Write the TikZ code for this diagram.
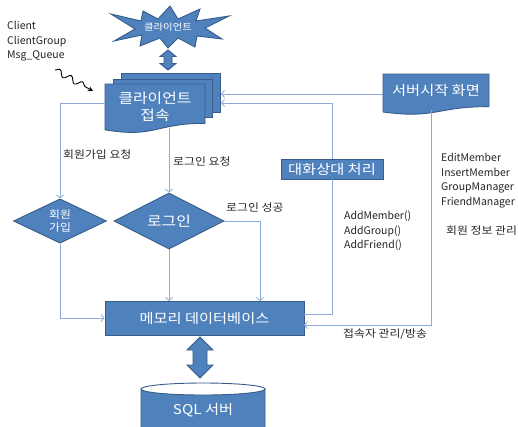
\documentclass[tikz,border=0pt]{standalone}
\usepackage{fontspec}
\setmainfont[FakeStretch=1.13]{Noto Sans CJK KR}
\newfontfamily\latinfnt{Noto Sans CJK KR}
\usetikzlibrary{shapes.geometric,arrows.meta,decorations.pathmorphing}
\definecolor{fillblue}{HTML}{4F81BD}
\definecolor{edgeblue}{HTML}{385D8A}
\definecolor{linkblue}{HTML}{8EAAD8}
\begin{document}
\begin{tikzpicture}[x=1pt,y=-1pt,
  blockfill/.style={fill=fillblue,draw=edgeblue,line width=0.9pt},
  link/.style={draw=linkblue,line width=0.8pt,-{Straight Barb[length=3pt,width=7pt]}},
  plainlink/.style={draw=linkblue,line width=0.8pt},
  lbl/.style={font=\fontsize{10.5}{14.5}\selectfont,text=black!85,inner sep=0,align=left,anchor=west},
  latin/.style={font=\latinfnt\fontsize{10.5}{14.5}\selectfont,text=black!85,inner sep=0,align=left,anchor=north west},
  boxtxt/.style={text=white,inner sep=0,align=center},
]
\useasboundingbox (0,0) rectangle (518,426);
\fill[white] (0,0) rectangle (518,426);

% ---- star (explosion)
\draw[blockfill] (111,14) -- (141,21) -- (143,11) -- (158,19) -- (170,6) -- (178,19) -- (200,9) -- (196,21) -- (229,16) -- (205,28) -- (222,39) -- (197,36) -- (195,47) -- (178,38) -- (168,48) -- (160,38) -- (140,46) -- (142,35) -- (114,41) -- (135,29) -- cycle;
\node[boxtxt,font=\fontsize{9.2}{11}\selectfont] (star) at (168,27) {클라이언트};

% ---- top double arrow
\draw[blockfill] (168,50) -- (176,56.5) -- (172,56.5) -- (172,63.5) -- (176,63.5) -- (168,70) -- (160,63.5) -- (164,63.5) -- (164,56.5) -- (160,56.5) -- cycle;

% ---- multidocument
\draw[blockfill] (121,73) rectangle (220,112);
\draw[blockfill] (113,79) rectangle (212,117);
\draw[blockfill] (105,84) -- (205,84) -- (205,123.3) .. controls (155,123.3) and (155,138.3) .. (105,129.8) -- cycle;
\node[boxtxt,font=\fontsize{14}{17}\selectfont] (cdoc) at (155,106.5) {클라이언트\\접속};
\coordinate (cdocW) at (105,103);
\coordinate (cdocS) at (169,128);
\coordinate (cdocE1) at (221,94);
\coordinate (cdocE2) at (221,103);

% ---- server start doc
\draw[blockfill] (383,74) -- (489,74) -- (489,106.6) .. controls (436,106.6) and (436,119.1) .. (383,112) -- cycle;
\node[boxtxt,font=\fontsize{13.5}{16}\selectfont] (srv) at (436,90) {서버시작 화면};
\coordinate (srvW) at (383,94);
\coordinate (srvS) at (431,110);

% ---- talk box
\node[blockfill,rectangle,minimum width=102pt,minimum height=20pt,boxtxt,font=\fontsize{13.5}{16}\selectfont] (talk) at (332,169) {대화상대 처리};

% ---- diamonds
\node[blockfill,diamond,minimum width=93pt,minimum height=38pt,boxtxt,font=\fontsize{10.5}{13}\selectfont] (join) at (60,221) {회원\\가입};
\node[blockfill,diamond,minimum width=110pt,minimum height=38pt,boxtxt,font=\fontsize{14}{16}\selectfont] (login) at (169,221) {로그인};

% ---- memory DB
\node[blockfill,rectangle,minimum width=199pt,minimum height=34pt,boxtxt,font=\fontsize{13.5}{16}\selectfont] (mem) at (204.5,318) {메모리 데이터베이스};
\coordinate (memN1) at (169,301);
\coordinate (memN2) at (260,301);
\coordinate (memE1) at (304,314);
\coordinate (memE2) at (304,325);

% ---- lower double arrow
\draw[blockfill] (200,337) -- (213,350) -- (207,350) -- (207,365) -- (213,365) -- (200,378) -- (187,365) -- (193,365) -- (193,350) -- (187,350) -- cycle;

% ---- SQL cylinder
\draw[blockfill] (141,389) -- (141,440) -- (265,440) -- (265,389) arc[start angle=0,end angle=180,x radius=62pt,y radius=-6pt] -- cycle;
\draw[edgeblue,line width=0.9pt] (141,389) arc[start angle=180,end angle=360,x radius=62pt,y radius=-6pt];
\node[boxtxt,font=\fontsize{13.5}{16}\selectfont] (sql) at (203,410) {SQL 서버};

% ---- connectors
\draw[link] (cdocW) -| (join.north);
\draw[link] (cdocS) -- (login.north);
\draw[link] (login.south) -- (memN1);
\draw[link] (login.east) -| (memN2);
\draw[link] (join.south) |- (mem.west);
\draw[link] (srvW) -- (cdocE1);
\draw[link] (talk.north) |- (cdocE2);
\draw[plainlink] (talk.south) |- (memE1);
\draw[link] (srvS) |- (memE2);

% ---- squiggle
\coordinate (sqA) at (55,70);
\coordinate (sqB) at (93,91);
\draw[black,line width=0.9pt,-{Stealth[length=5pt,width=5pt]},decorate,decoration={snake,amplitude=3pt,segment length=13pt,post length=5pt}] (sqA) -- (sqB);

% ---- labels
\node[latin] (cls) at (7,21) {Client\\ClientGroup\\Msg\_Queue};
\node[lbl] (ljoin) at (63,155) {회원가입 요청};
\node[lbl] (llogin) at (173,162) {로그인 요청};
\node[lbl] (lok) at (226,208) {로그인 성공};
\node[latin] (ladd) at (344,211) {AddMember()\\AddGroup()\\AddFriend()};
\node[latin] (ledit) at (441,153) {EditMember\\InsertMember\\GroupManager\\FriendManager};
\node[lbl] (linfo) at (446,231) {회원 정보 관리};
\node[lbl] (lconn) at (343,334) {접속자 관리/방송};
\end{tikzpicture}
\end{document}
